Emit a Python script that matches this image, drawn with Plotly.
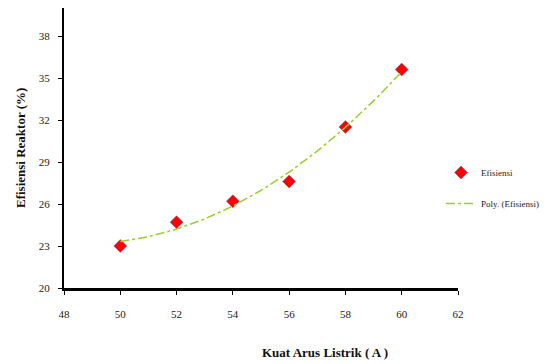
import numpy as np
import plotly.graph_objects as go

current = [50, 52, 54, 56, 58, 60]
efficiency = [23.0, 24.7, 26.2, 27.6, 31.5, 35.6]
x_ticks = [48, 50, 52, 54, 56, 58, 60, 62]
y_ticks = [20, 23, 26, 29, 32, 35, 38]

coef = np.polyfit(current, efficiency, 2)
xs = np.linspace(min(current), max(current), 60)
ys = np.polyval(coef, xs)

fig = go.Figure()
fig.add_trace(go.Scatter(x=current, y=efficiency, mode="markers", name="Efisiensi",
                         legendgroup="a",
                         marker=dict(symbol="diamond", size=10, color="#FF0000",
                                     line=dict(color="#5566aa", width=0.5))))
fig.add_trace(go.Scatter(x=xs, y=ys, mode="lines", name="Poly. (Efisiensi)",
                         legendgroup="b",
                         line=dict(color="#9ACD32", width=1.5, dash="dashdot")))

font_family = "Liberation Serif"
fig.update_layout(
    width=560, height=364,
    margin=dict(l=56, r=110, t=0, b=84, autoexpand=False),
    paper_bgcolor="white", plot_bgcolor="white",
    font=dict(family=font_family, size=10, color="#222"),
    showlegend=True,
    legend=dict(x=(441 - 64) / 394, y=(288 - 188) / 280, xanchor="left", yanchor="middle",
                font=dict(size=9, family=font_family, color="#222"),
                tracegroupgap=12, itemwidth=30),
    xaxis=dict(range=[48, 62], tickvals=x_ticks, showline=True, linecolor="black", linewidth=3,
               ticks="outside", ticklen=4, tickcolor="black", showgrid=False, zeroline=False,
               tickfont=dict(size=11), automargin=False, ticklabelstandoff=10),
    yaxis=dict(range=[20, 40], tickvals=y_ticks, showline=True, linecolor="black", linewidth=2,
               ticks="outside", ticklen=4, tickcolor="black", showgrid=False, zeroline=False,
               tickfont=dict(size=11), automargin=False, ticklabelstandoff=6),
)
fig.add_annotation(text="<b>Kuat Arus Listrik ( A )</b>", xref="paper", yref="paper",
                   x=(325 - 64) / 394, y=-64 / 280, xanchor="center", yanchor="middle",
                   showarrow=False, font=dict(size=13, family=font_family, color="#111"))
fig.add_annotation(text="<b>Efisiensi Reaktor (%)</b>", xref="paper", yref="paper",
                   x=(20 - 64) / 394, y=(288 - 148) / 280, xanchor="center", yanchor="middle",
                   textangle=-90, showarrow=False,
                   font=dict(size=13, family=font_family, color="#111"))

fig.write_html("out.html")
